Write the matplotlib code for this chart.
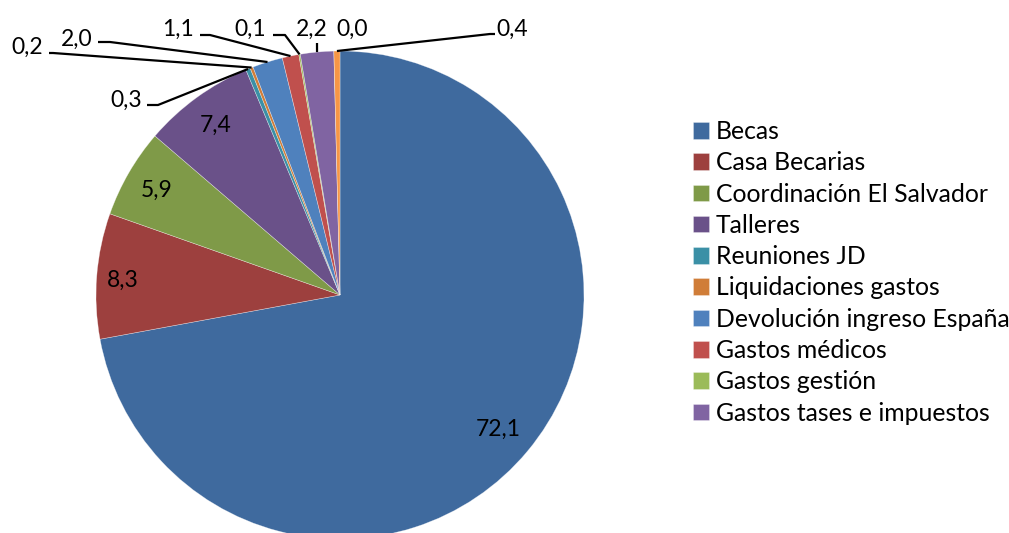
import numpy as np
import matplotlib
matplotlib.use("Agg")
import matplotlib.pyplot as plt

plt.rcParams['font.family'] = ['Lato', 'DejaVu Sans']

# ---- data ----
categories = ["Becas", "Casa Becarias", "Coordinación El Salvador", "Talleres",
              "Reuniones JD", "Liquidaciones gastos", "Devolución ingreso España",
              "Gastos médicos", "Gastos gestión", "Gastos tases e impuestos",
              "Serie 11", "Serie 12"]
values = [72.1, 8.3, 5.9, 7.4, 0.3, 0.2, 2.0, 1.1, 0.1, 2.2, 0.0, 0.4]
legend_count = 10  # only the first ten entries are visible in the legend

colors = ["#3F6A9E", "#9D403E", "#7F9A48", "#6A5189", "#3B90A6", "#D07D38",
          "#4F81BD", "#C0504D", "#9BBB59", "#8064A2", "#4BACC6", "#F79646"]

# ---- layout (pixel coordinates, y measured from top) ----
W, H = 1009, 533
CX, CY, R = 340, 295, 244
FS = 16.5
FS_LEG = 17.8

def py(y):  # convert top-based pixel y to data y
    return H - y

fig = plt.figure(figsize=(W / 100, H / 100), dpi=100)
ax = fig.add_axes([0, 0, 1, 1])
wedges, _ = ax.pie(values, colors=colors, startangle=90, counterclock=False,
                   radius=R, center=(CX, py(CY)),
                   wedgeprops=dict(linewidth=0.4, edgecolor=(1, 1, 1, 0.5)))
ax.set_xlim(0, W)
ax.set_ylim(0, H)
ax.set_aspect('equal')
ax.axis('off')

fmt = lambda v: f"{v:.1f}".replace('.', ',')
total = sum(values)
cum = np.cumsum([0] + values)
mid_deg = [(cum[i] + values[i] / 2) / total * 360 for i in range(len(values))]

def point(theta_deg, r):
    t = np.deg2rad(theta_deg)
    return CX + r * np.sin(t), py(CY - r * np.cos(t))

# inside labels: index -> radius fraction
inside = {0: 0.845, 1: 0.895, 2: 0.87, 3: 0.87}
for i, f in inside.items():
    x, y = point(mid_deg[i], R * f)
    ax.text(x, y, fmt(values[i]), ha='center', va='center_baseline',
            fontsize=FS, color='black')

# outside labels: index -> (text centre x, baseline y, elbow points)
outside = {
    4: (126, 107, [(158, 105), (147, 105)]),
    5: (27, 54, [(53, 53), (49, 53)]),
    6: (77, 46, [(110, 42), (98, 42)]),
    7: (178, 36, [(210, 35), (200, 35)]),
    8: (250, 36, [(285, 35), (273, 35)]),
    9: (312, 36, [(317, 43)]),
    10: (352, 36, []),
    11: (512, 36, [(490, 34), (495, 34)]),
}
for i, (tx, ty, elbows) in outside.items():
    ax.text(tx, py(ty), fmt(values[i]), ha='center', va='baseline',
            fontsize=FS, color='black')
    if elbows:
        sx, sy = point(mid_deg[i], R)
        xs = [sx] + [e[0] for e in elbows]
        ys = [sy] + [py(e[1]) for e in elbows]
        ax.plot(xs, ys, color='black', linewidth=1.6, solid_capstyle='butt')

fs_px = FS_LEG * 100 / 72
ax.legend(wedges[:legend_count], categories[:legend_count],
          loc='upper left', bbox_to_anchor=(693 / W, 1 - 120 / H),
          frameon=False, fontsize=FS_LEG, borderpad=0, borderaxespad=0,
          handlelength=16 / fs_px, handleheight=16 / fs_px,
          handletextpad=7 / fs_px, labelspacing=0.335)

fig.savefig("out.png", dpi=100, facecolor='white')
